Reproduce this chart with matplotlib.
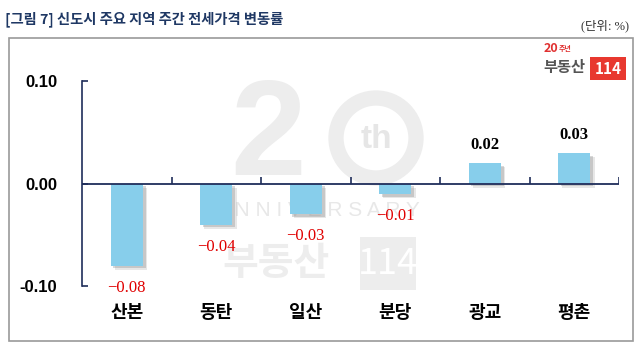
import matplotlib
matplotlib.use("Agg")
import matplotlib.pyplot as plt
import matplotlib.patheffects as pe
from matplotlib.patches import Rectangle, Circle
from matplotlib.transforms import IdentityTransform

plt.rcParams['font.family'] = ['Noto Sans CJK KR', 'DejaVu Sans']

categories = ['산본', '동탄', '일산', '분당', '광교', '평촌']
values = [-0.08, -0.04, -0.03, -0.01, 0.02, 0.03]
yticks = [-0.10, 0.00, 0.10]
ytick_labels = ['-0.10', '0.00', '0.10']
title = '[그림 7] 신도시 주요 지역 주간 전세가격 변동률'
unit = '(단위: %)'

W, H = 638, 362
fig = plt.figure(figsize=(W / 100, H / 100), dpi=100)
fig.patch.set_facecolor('white')

def fx(px):
    return px / W

def fy(py):
    return 1 - py / H

navy = '#1F2D5A'

# frame
fig.patches.append(Rectangle((fx(9), fy(341)), fx(633) - fx(9), fy(38) - fy(341),
                             transform=fig.transFigure, fill=False,
                             edgecolor='#9a9a9a', linewidth=1.2, zorder=-5))

# title & unit
fig.text(fx(5), fy(19), title, fontsize=10.3, fontweight='bold', color='#1F3864',
         va='center', ha='left')
fig.text(fx(629), fy(26), unit, fontsize=9, color='#333333', va='center', ha='right',
         family=['Liberation Serif', 'Noto Sans CJK KR'])

# logo top right
fig.text(fx(544), fy(49), '20', fontsize=9, fontweight='bold', color='#E03030', va='center', ha='left',
         style='italic')
fig.text(fx(559), fy(48), '주년', fontsize=5, fontweight='bold', color='#E03030', va='center', ha='left')
fig.text(fx(543), fy(67), '부동산', fontsize=11, fontweight='bold', color='#555555', va='center', ha='left')
fig.patches.append(Rectangle((fx(590), fy(80)), fx(626) - fx(590), fy(57) - fy(80),
                             transform=fig.transFigure, facecolor='#E8382F', edgecolor='none'))
fig.text(fx(608), fy(68.5), '114', fontsize=11, fontweight='bold', color='white', va='center', ha='center')

# watermark
wm = '#ededed'
fig.text(fx(268), fy(140), '2', fontsize=98, fontweight='bold', color=wm, va='center', ha='center',
         family=['Liberation Sans', 'DejaVu Sans'], zorder=-2)
ring = Circle((376, H - 138), radius=40, fill=False, edgecolor=wm, linewidth=11, zorder=-2)
ring.set_transform(IdentityTransform())
fig.patches.append(ring)
fig.text(fx(376), fy(140), 'th', fontsize=24, fontweight='bold', color='#e6e6e6', va='center', ha='center',
         family=['Liberation Sans', 'DejaVu Sans'], zorder=-1)
fig.text(fx(318), fy(211), 'A N N I V E R S A R Y', fontsize=15, color='#e8e8e8', va='center',
         ha='center', family=['Liberation Sans', 'DejaVu Sans'], zorder=-2)
fig.text(fx(222), fy(264), '부동산', fontsize=28, fontweight='bold', color=wm, va='center', ha='left',
         zorder=-2)
fig.patches.append(Rectangle((fx(360), fy(290)), fx(416) - fx(360), fy(237) - fy(290),
                             transform=fig.transFigure, facecolor=wm, edgecolor='none', zorder=-2))
fig.text(fx(388), fy(264), '114', fontsize=26, color='white', va='center', ha='center', zorder=-1)

# axes
ax = fig.add_axes([fx(82), fy(286), fx(619) - fx(82), fy(81) - fy(286)])
ax.set_facecolor('none')
ax.set_zorder(1)
x = list(range(len(categories)))
shadow = [pe.SimplePatchShadow(offset=(3, -3), shadow_rgbFace='#a0a0a0', alpha=0.25),
          pe.SimplePatchShadow(offset=(2, -2), shadow_rgbFace='#808080', alpha=0.3),
          pe.Normal()]
bars = ax.bar(x, values, width=0.36, color='#87CEEB', zorder=3, path_effects=shadow)
ax.set_xlim(-0.5, len(categories) - 0.5)
ax.set_ylim(-0.10, 0.10)

ax.axhline(0, color=navy, linewidth=1.3, zorder=4)
bounds = [i + 0.5 for i in range(len(categories))]
ax.vlines(bounds, 0, 0.006, color=navy, linewidth=1.2, zorder=4)

for s in ['top', 'right', 'bottom']:
    ax.spines[s].set_visible(False)
ax.spines['left'].set_color(navy)
ax.spines['left'].set_linewidth(1.2)

ax.set_yticks(yticks)
ax.set_yticklabels(ytick_labels, fontsize=12, fontweight='bold',
                   family=['Liberation Sans', 'DejaVu Sans'])
ax.tick_params(axis='y', direction='in', length=4, width=1.2, color=navy, pad=18)
ax.set_xticks(x)
ax.set_xticklabels(categories, fontsize=13, fontweight='bold')
ax.tick_params(axis='x', length=0, pad=12)

for xi, v in zip(x, values):
    if v < 0:
        ax.annotate(f'\u2212{abs(v):.2f}', (xi, v), xytext=(0, -16), textcoords='offset points',
                    ha='center', va='center', fontsize=12, color='#E00000',
                    family=['Liberation Serif', 'DejaVu Serif'], zorder=5)
    else:
        ax.annotate(f'{v:.2f}', (xi, v), xytext=(0, 13), textcoords='offset points',
                    ha='center', va='center', fontsize=12, fontweight='bold', color='black',
                    family=['Liberation Serif', 'DejaVu Serif'], zorder=5)

fig.savefig('out.png', dpi=100, facecolor='white')
